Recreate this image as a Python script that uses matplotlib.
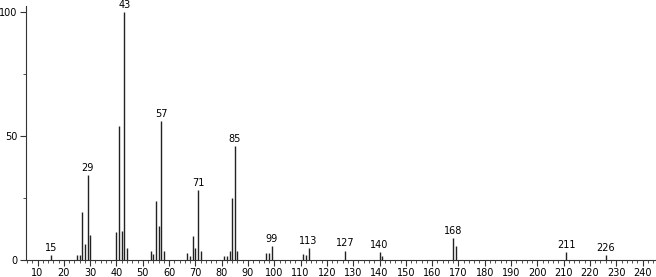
import matplotlib
matplotlib.use("Agg")
import matplotlib.pyplot as plt
from matplotlib.ticker import MultipleLocator

# m/z and relative intensity
mz = [15, 25, 26, 27, 28, 29, 30, 40, 41, 42, 43, 44,
      53, 54, 55, 56, 57, 58, 67, 68, 69, 70, 71, 72,
      81, 82, 83, 84, 85, 86, 97, 98, 99, 111, 112, 113,
      127, 140, 141, 168, 169, 211, 226]
intensity = [2.0, 2.0, 2.0, 19.2, 6.3, 34.3, 10.1, 11.2, 54.2, 11.7, 100.0, 4.7,
             3.6, 2.4, 23.8, 13.7, 56.0, 3.6, 2.9, 1.6, 9.5, 4.7, 28.1, 3.6,
             1.6, 1.6, 3.6, 24.9, 46.1, 3.6, 2.9, 2.9, 5.6, 2.4, 2.0, 4.8,
             3.8, 3.1, 1.7, 9.0, 5.6, 3.1, 2.0]
labelled = [15, 29, 43, 57, 71, 85, 99, 113, 127, 140, 168, 211, 226]

x_ticks = list(range(10, 250, 10))
y_ticks = [0, 50, 100]

fig = plt.figure(figsize=(6.56, 2.77), dpi=100)
ax = fig.add_axes([0.0396, 0.0614, 0.96, 0.917])

ax.vlines(mz, 0, intensity, color="#222222", linewidth=1.0)

for m, h in zip(mz, intensity):
    if m in labelled:
        ax.annotate(str(m), (m, h), xytext=(0, 1.5), textcoords="offset points",
                    ha="center", va="bottom", fontsize=7, color="black")

ax.set_xlim(5.6, 245)
ax.set_ylim(0, 102.4)

ax.set_xticks(x_ticks)
ax.xaxis.set_minor_locator(MultipleLocator(2))
ax.set_yticks(y_ticks)
ax.yaxis.set_minor_locator(MultipleLocator(25))

ax.tick_params(axis="both", which="major", direction="out", length=4, width=0.8,
               labelsize=7, pad=2, color="#333333")
ax.tick_params(axis="both", which="minor", direction="out", length=2, width=0.6,
               color="#333333")

for side in ["top", "right"]:
    ax.spines[side].set_visible(False)
for side in ["left", "bottom"]:
    ax.spines[side].set_color("#333333")
    ax.spines[side].set_linewidth(0.8)

fig.savefig("out.png", dpi=100)
